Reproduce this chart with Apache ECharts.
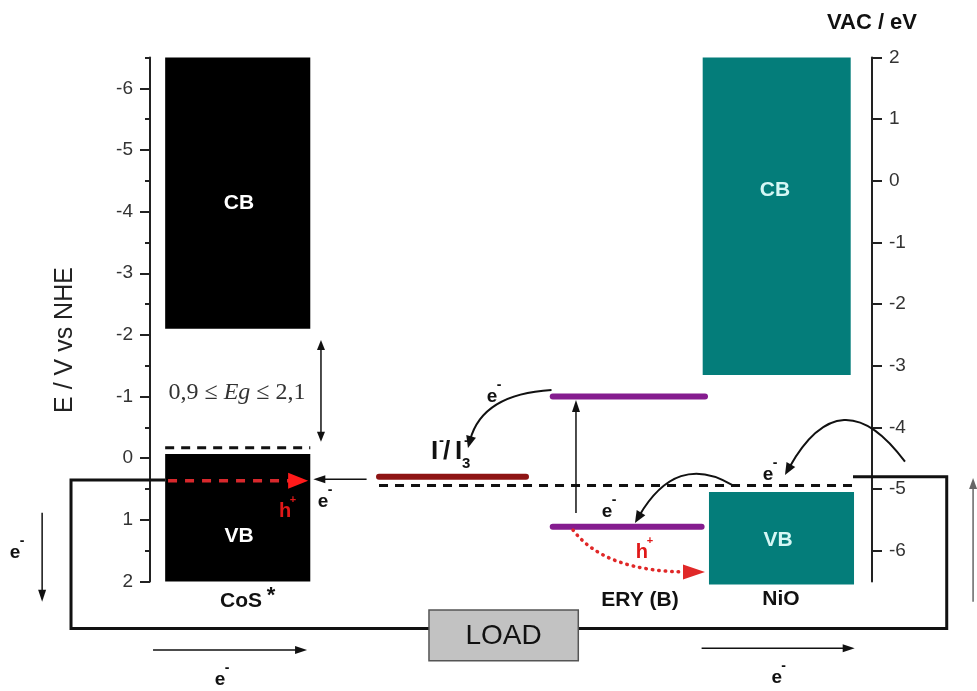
<!DOCTYPE html>
<html><head><meta charset="utf-8">
<script src="https://cdn.jsdelivr.net/npm/echarts@6/dist/echarts.min.js"></script>
<style>html,body{margin:0;padding:0;background:#fff}#c{width:977px;height:691px}</style>
</head><body><div id="c"></div>
<script>
const FONT = '"Liberation Sans", Arial, sans-serif';
const SERIF = '"Liberation Serif", "Times New Roman", serif';

// ---- axis ticks ----
const leftTicks = [-6, -5, -4, -3, -2, -1, 0, 1, 2];
const leftMinorTicks = [-6.5, -5.5, -4.5, -3.5, -2.5, -1.5, -0.5, 0.5, 1.5];
const rightTicks = [2, 1, 0, -1, -2, -3, -4, -5, -6];

// ---- CoS* bands (E / V vs NHE) ----
const cosX = [0.21, 2.22];
const cosCB = [-6.5, -2.1];
const cosVB = [-0.07, 2.0];
const cosDashedLevel = -0.17;
const holeX = [0.25, 2.19];
const holeLevel = 0.365;

// ---- NiO bands (VAC / eV) ----
const nioCBx = [7.655, 9.705];
const nioVBx = [7.742, 9.751];
const nioCB = [2, -3.15];
const nioVB = [-5.05, -6.55];

// ---- electrolyte / dye levels (E / V vs NHE) ----
const redoxX = [3.172, 5.208];
const redoxLevel = 0.30;
const fermiX = [3.172, 9.737];
const fermiLevel = 0.443;
const eryLumoX = [5.578, 7.687];
const eryLumo = -1.0;
const eryHomoX = [5.578, 7.64];
const eryHomo = 1.11;

// ---- external circuit ----
const circuitX = [0.208, -1.094, -1.094, 11.035, 11.035, 9.737];
const circuitY = [0.354, 0.354, 2.762, 2.762, 0.300, 0.300];
const loadX = [3.864, 5.932];
const loadY = [2.462, 3.285];

// ---- arrows [x0, y0, x1, y1] ----
const straightArrows = [
  [3.0, 0.342, 2.262, 0.342],
  [5.9, 0.889, 5.9, -0.944],
  [0.042, 3.111, 2.175, 3.111],
  [7.64, 3.084, 9.76, 3.084],
  [-1.494, 0.884, -1.494, 2.328]
];
const gapArrow = [[2.368, -1.919, 2.368, -0.268]];
const returnArrow = [[11.40, 2.328, 11.40, 0.321]];
// curves [x0, y0, cx, cy, x1, y1]
const curvedArrows = [
  [5.561, -1.106, 4.605, -1.041, 4.404, -0.166],
  [8.061, 0.432, 7.292, -0.101, 6.717, 1.051],
  [10.457, 0.057, 9.571, -1.345, 8.795, 0.272]
];
const holeCurve = [[5.859, 1.165, 6.302, 1.846, 7.687, 1.846]];

// ---- labels ----
const bandLabels = ['CB', 'VB', 'CB', 'VB'];
const bandLabelPos = [[1.233, -4.144], [1.233, 1.273], [8.657, -4.35], [8.698, 1.327]];
const electronLabels = [[4.737, -0.993], [2.396, 0.706], [6.33, 0.87], [8.56, 0.272], [-1.87, 1.538], [0.970, 3.597], [8.68, 3.565]];
const holeLabels = [[1.870, 0.868], [6.814, 1.537]];
const materialNames = ['CoS', 'ERY (B)', 'NiO'];
const materialPos = [[1.26, 2.316], [6.787, 2.302], [8.74, 2.289]];
const redoxLabelPos = [[4.183, -0.10]];
const gapLabelPos = [[1.205, -1.057]];
const yNamePos = [[-1.177, -1.917]];
const yName = 'E / V vs NHE';
const loadText = 'LOAD';

function head(tip, ux, uy, len, hw, color) {
  const bx = tip[0] - ux * len, by = tip[1] - uy * len;
  return { type: 'polygon', shape: { points: [[tip[0], tip[1]], [bx - uy * hw, by + ux * hw], [bx + uy * hw, by - ux * hw]] }, style: { fill: color } };
}

function straightArrowSeries(rows, o) {
  return {
    type: 'custom', yAxisIndex: 0, z: o.z || 4, silent: true, clip: false, data: rows,
    renderItem(params, api) {
      const p0 = api.coord([api.value(0), api.value(1)]);
      const p1 = api.coord([api.value(2), api.value(3)]);
      const dx = p1[0] - p0[0], dy = p1[1] - p0[1], d = Math.hypot(dx, dy);
      const ux = dx / d, uy = dy / d;
      const s = o.both ? [p0[0] + ux * o.len * 0.8, p0[1] + uy * o.len * 0.8] : p0;
      const e = [p1[0] - ux * o.len * 0.8, p1[1] - uy * o.len * 0.8];
      const ch = [{ type: 'line', shape: { x1: s[0], y1: s[1], x2: e[0], y2: e[1] }, style: { stroke: o.color, lineWidth: o.lw, lineDash: o.dash || null } }];
      ch.push(head(p1, ux, uy, o.len, o.hw, o.headColor || o.color));
      if (o.both) ch.push(head(p0, -ux, -uy, o.len, o.hw, o.headColor || o.color));
      return { type: 'group', children: ch };
    }
  };
}

function curveArrowSeries(rows, o) {
  return {
    type: 'custom', yAxisIndex: 0, z: 4, silent: true, clip: false, data: rows,
    renderItem(params, api) {
      const p0 = api.coord([api.value(0), api.value(1)]);
      const c = api.coord([api.value(2), api.value(3)]);
      const p1 = api.coord([api.value(4), api.value(5)]);
      const dx = p1[0] - c[0], dy = p1[1] - c[1], d = Math.hypot(dx, dy);
      const ux = dx / d, uy = dy / d;
      const e = o.trim ? [p1[0] - ux * o.len * 0.7, p1[1] - uy * o.len * 0.7] : p1;
      return { type: 'group', children: [
        { type: 'bezierCurve', shape: { x1: p0[0], y1: p0[1], cpx1: c[0], cpy1: c[1], x2: e[0], y2: e[1] },
          style: { stroke: o.color, fill: null, lineWidth: o.lw, lineDash: o.dash || null, lineCap: o.cap || 'butt' } },
        head(p1, ux, uy, o.len, o.hw, o.color)
      ] };
    }
  };
}

function bandSeries(xs, ranges, axis, color) {
  return {
    type: 'custom', yAxisIndex: axis, z: 2, silent: true, clip: false,
    data: ranges.map((r, i) => [xs[i][0], xs[i][1], r[0], r[1]]),
    renderItem(params, api) {
      const p0 = api.coord([api.value(0), api.value(2)]);
      const p1 = api.coord([api.value(1), api.value(3)]);
      return { type: 'rect', shape: { x: Math.min(p0[0], p1[0]), y: Math.min(p0[1], p1[1]), width: Math.abs(p1[0] - p0[0]), height: Math.abs(p1[1] - p0[1]) }, style: { fill: color } };
    }
  };
}

function levelSeries(xs, y, color, width, dash, cap, z) {
  return { type: 'line', yAxisIndex: 0, z: z || 3, silent: true, clip: false, symbol: 'none', animation: false,
    data: [[xs[0], y], [xs[1], y]],
    lineStyle: { color: color, width: width, type: dash || 'solid', cap: cap || 'butt' } };
}

function txt(x, y, text, fs, extra) {
  return Object.assign({ type: 'text', x: x, y: y, style: { text: text, fontSize: fs, fontFamily: FONT, fontWeight: 'bold', fill: '#111', align: 'center', verticalAlign: 'middle' } }, extra || {});
}
function withStyle(el, st) { Object.assign(el.style, st); return el; }

function labelSeries(rows, build) {
  return { type: 'custom', yAxisIndex: 0, z: 5, silent: true, clip: false, data: rows,
    renderItem(params, api) {
      const p = api.coord([api.value(0), api.value(1)]);
      return { type: 'group', children: build(p, params.dataIndex) };
    } };
}

const option = {
  animation: false,
  grid: { left: 150, right: 105, top: 57.5, bottom: 109.5 },
  xAxis: { type: 'value', min: 0, max: 10, show: false },
  yAxis: [
    { type: 'value', position: 'left', min: -6.5, max: 2, inverse: true,
      axisLine: { show: true, lineStyle: { color: '#222', width: 2 } },
      axisTick: { show: true, length: 10, customValues: leftTicks, lineStyle: { width: 2, color: '#222' } },
      axisLabel: { show: true, customValues: leftTicks, fontSize: 19, margin: 17, color: '#333', fontFamily: FONT },
      splitLine: { show: false } },
    { type: 'value', position: 'right', min: -6.5, max: 2,
      name: 'VAC / eV', nameLocation: 'end', nameGap: 24,
      nameTextStyle: { fontSize: 22, fontWeight: 'bold', color: '#111', fontFamily: FONT },
      axisLine: { show: true, lineStyle: { color: '#222', width: 2 } },
      axisTick: { show: true, length: 10, customValues: rightTicks, lineStyle: { width: 2, color: '#222' } },
      axisLabel: { show: true, customValues: rightTicks, fontSize: 19, margin: 17, color: '#333', fontFamily: FONT },
      splitLine: { show: false } },
    { type: 'value', position: 'left', min: -6.5, max: 2, inverse: true,
      axisLine: { show: false },
      axisTick: { show: true, length: 5, customValues: leftMinorTicks, lineStyle: { width: 2, color: '#222' } },
      axisLabel: { show: false }, splitLine: { show: false } }
  ],
  series: [
    // external circuit (custom so that it can extend beyond the plot area)
    { type: 'custom', yAxisIndex: 0, z: 1, silent: true, clip: false,
      data: [[circuitX[0], circuitY[0]]],
      renderItem(params, api) {
        const pts = circuitX.map((x, i) => api.coord([x, circuitY[i]]));
        return { type: 'polyline', shape: { points: pts }, style: { stroke: '#111', lineWidth: 3, fill: null, lineJoin: 'miter' } };
      } },
    // bands
    bandSeries([cosX, cosX], [cosCB, cosVB], 0, '#000000'),
    bandSeries([nioCBx, nioVBx], [nioCB, nioVB], 1, '#047d7a'),
    // levels
    levelSeries(cosX, cosDashedLevel, '#111', 3, [9, 7]),
    levelSeries(fermiX, fermiLevel, '#111', 3, [9, 7]),
    levelSeries(redoxX, redoxLevel, '#8e1414', 6, 'solid', 'round'),
    levelSeries(eryLumoX, eryLumo, '#851c8f', 6, 'solid', 'round'),
    levelSeries(eryHomoX, eryHomo, '#851c8f', 6, 'solid', 'round'),
    // hole arrow inside CoS VB
    straightArrowSeries([[holeX[0], holeLevel, holeX[1], holeLevel]], { color: '#d8282c', headColor: '#ff1a1a', lw: 3.5, len: 20, hw: 8, dash: [9, 8] }),
    // arrows
    straightArrowSeries(straightArrows, { color: '#111', lw: 1.5, len: 12, hw: 4 }),
    straightArrowSeries(gapArrow, { color: '#111', lw: 1.5, len: 10, hw: 4, both: true }),
    straightArrowSeries(returnArrow, { color: '#666', lw: 1.5, len: 11, hw: 4 }),
    curveArrowSeries(curvedArrows, { color: '#111', lw: 2, len: 12, hw: 5, trim: true }),
    curveArrowSeries(holeCurve, { color: '#e02828', lw: 3.5, len: 22, hw: 7.5, dash: [0.5, 6], cap: 'round', trim: true }),
    // LOAD box
    { type: 'custom', yAxisIndex: 0, z: 6, silent: true, clip: false, data: [[loadX[0], loadY[0], loadX[1], loadY[1]]],
      renderItem(params, api) {
        const p0 = api.coord([api.value(0), api.value(1)]);
        const p1 = api.coord([api.value(2), api.value(3)]);
        return { type: 'group', children: [
          { type: 'rect', shape: { x: p0[0], y: p0[1], width: p1[0] - p0[0], height: p1[1] - p0[1] }, style: { fill: '#c2c2c2', stroke: '#555', lineWidth: 1.5 } },
          withStyle(txt((p0[0] + p1[0]) / 2, (p0[1] + p1[1]) / 2 + 1, loadText, 28), { fontWeight: 'normal' })
        ] };
      } },
    // band labels
    labelSeries(bandLabelPos, (p, i) => [withStyle(txt(p[0], p[1], bandLabels[i], 21), { fill: i < 2 ? '#ffffff' : '#d6f7f5' })]),
    // e- labels
    labelSeries(electronLabels, (p) => [txt(p[0], p[1], 'e', 19), txt(p[0] + 7, p[1] - 12, '-', 14)]),
    // h+ labels
    labelSeries(holeLabels, (p) => [withStyle(txt(p[0], p[1], 'h', 20), { fill: '#e01818' }), withStyle(txt(p[0] + 8, p[1] - 12, '+', 11), { fill: '#e01818' })]),
    // material names
    labelSeries(materialPos, (p, i) => {
      const a = [txt(p[0], p[1], materialNames[i], 21)];
      if (i === 0) a.push(txt(p[0] + 30, p[1] - 5, '*', 22));
      return a;
    }),
    // I-/I3- label
    labelSeries(redoxLabelPos, (p) => [
      withStyle(txt(p[0] - 21, p[1], 'I', 26), { align: 'left' }),
      withStyle(txt(p[0] - 13, p[1] - 11, '-', 15), { align: 'left' }),
      withStyle(txt(p[0] - 9, p[1], '/', 26), { align: 'left' }),
      withStyle(txt(p[0] + 3, p[1], 'I', 26), { align: 'left' }),
      withStyle(txt(p[0] + 10, p[1] + 12, '3', 15), { align: 'left' }),
      withStyle(txt(p[0] + 12, p[1] - 11, '-', 15), { align: 'left' })
    ]),
    // band gap label
    labelSeries(gapLabelPos, (p) => [{ type: 'text', x: p[0], y: p[1], style: {
      text: '{n|0,9 ≤ }{i|Eg}{n| ≤ 2,1}', align: 'center', verticalAlign: 'middle',
      rich: { n: { fontFamily: SERIF, fontSize: 24, fill: '#333' }, i: { fontFamily: SERIF, fontStyle: 'italic', fontSize: 24, fill: '#333' } } } }]),
    // y axis title
    labelSeries(yNamePos, (p) => [{ type: 'text', x: p[0], y: p[1], rotation: Math.PI / 2, style: {
      text: yName, fontSize: 25, fontFamily: FONT, fill: '#222', align: 'center', verticalAlign: 'middle' } }])
  ]
};

const chart = echarts.init(document.getElementById('c'));
chart.setOption(option);
</script>
</body></html>
